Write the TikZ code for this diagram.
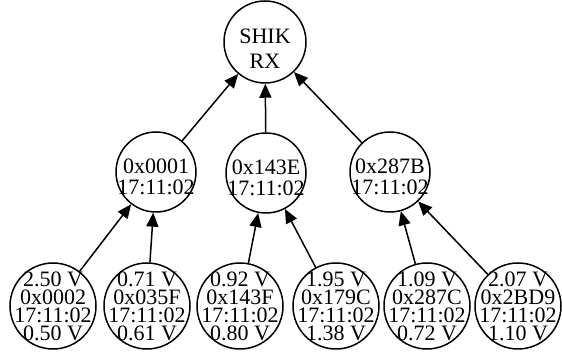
\documentclass[tikz,border=0pt]{standalone}
\usepackage{fontspec}
\setmainfont{Liberation Serif}
\usetikzlibrary{arrows.meta}
\newcommand{\toppad}[1]{\rule{0pt}{#1}}
\tikzset{
  gvnode/.style={circle, draw=black, line width=1.5pt, inner sep=-20pt, align=center},
  rootnode/.style={gvnode, minimum size=82pt, font=\fontsize{22}{25}\selectfont},
  midnode/.style={gvnode, minimum size=80pt, font=\fontsize{22}{21}\selectfont},
  leafnode/.style={gvnode, minimum size=86pt, font=\fontsize{22}{18}\selectfont},
  edge/.style={line width=1.5pt, -{Triangle[length=14pt,width=12pt]}}
}
\begin{document}
\begin{tikzpicture}[x=1pt,y=1pt]
\useasboundingbox (0,0) rectangle (562,352);
\node[rootnode] (root) at (265,310) {\toppad{29pt}SHIK\\RX};
\node[midnode] (m1) at (156,180) {\toppad{24pt}0x0001\\17:11:02};
\node[midnode] (m2) at (266,179) {\toppad{24pt}0x143E\\17:11:02};
\node[midnode] (m3) at (390,180) {\toppad{24pt}0x287B\\17:11:02};
\node[leafnode] (b1) at (53,46) {2.50 V\\0x0002\\17:11:02\\0.50 V};
\node[leafnode] (b2) at (147,46) {0.71 V\\0x035F\\17:11:02\\0.61 V};
\node[leafnode] (b3) at (240,46) {0.92 V\\0x143F\\17:11:02\\0.80 V};
\node[leafnode] (b4) at (336,46) {1.95 V\\0x179C\\17:11:02\\1.38 V};
\node[leafnode] (b5) at (427,46) {1.09 V\\0x287C\\17:11:02\\0.72 V};
\node[leafnode] (b6) at (518,46) {2.07 V\\0x2BD9\\17:11:02\\1.10 V};
\draw[edge] (m1) -- (root);
\draw[edge] (m2) -- (root);
\draw[edge] (m3) -- (root);
\draw[edge] (b1) -- (m1);
\draw[edge] (b2) -- (m1);
\draw[edge] (b3) -- (m2);
\draw[edge] (b4) -- (m2);
\draw[edge] (b5) -- (m3);
\draw[edge] (b6) -- (m3);
\end{tikzpicture}
\end{document}
